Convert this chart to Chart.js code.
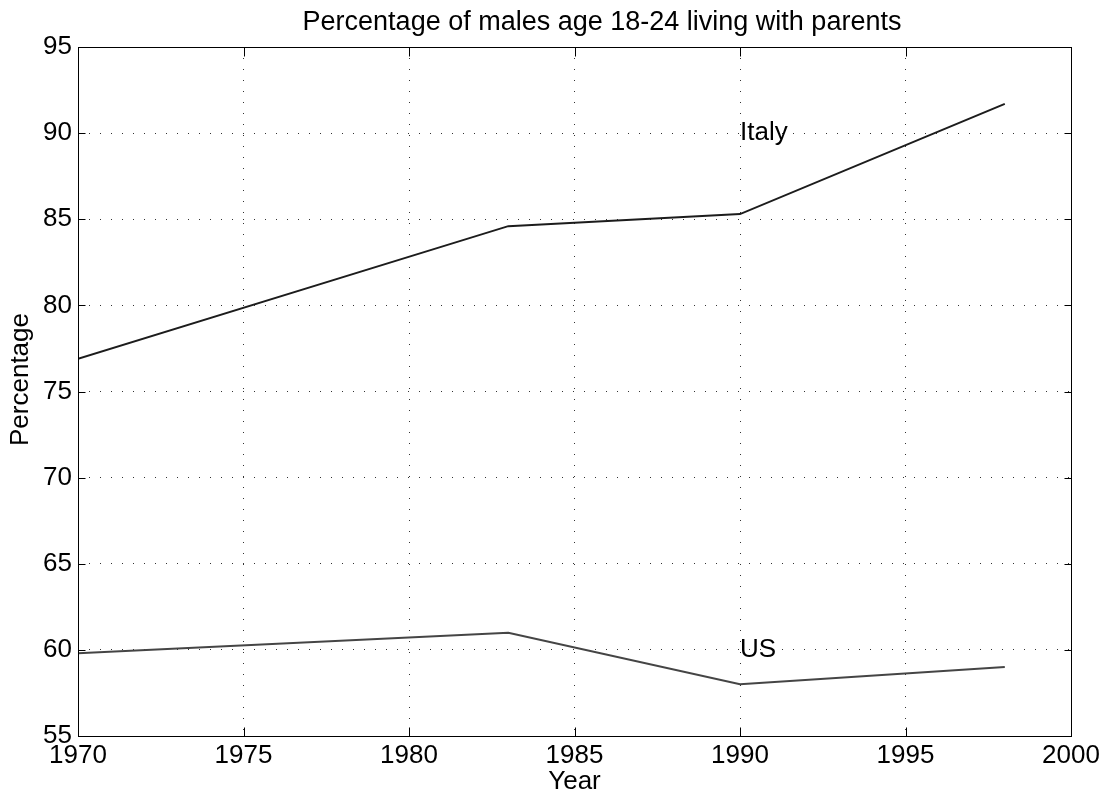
<!DOCTYPE html>
<html>
<head>
    <title>Percentage of males age 18-24 living with parents</title>
    <script src="https://cdnjs.cloudflare.com/ajax/libs/Chart.js/4.4.1/chart.umd.min.js"></script>
    <style>
        html, body {
            margin: 0;
            padding: 0;
            background: #fff;
        }
        .chart-container {
            width: 1112px;
            height: 795px;
        }
    </style>
</head>
<body>
    <div class="chart-container">
        <canvas id="parentsChart"></canvas>
    </div>

    <script>
        const years = [1970, 1983, 1990, 1998];
        const italy = [76.9, 84.6, 85.3, 91.7];
        const us = [59.8, 61.0, 58.0, 59.0];

        const xTicks = [1970, 1975, 1980, 1985, 1990, 1995, 2000];
        const yTicks = [55, 60, 65, 70, 75, 80, 85, 90, 95];

        const chartTitle = 'Percentage of males age 18-24 living with parents';
        const yTitle = 'Percentage';

        // text labels placed in data coordinates
        const seriesLabels = [
            { text: 'Italy', x: 1990, y: 90 },
            { text: 'US', x: 1990, y: 60 }
        ];

        const FONT = '"Liberation Sans", Arial, Helvetica, sans-serif';

        // box around the axes, inward ticks on all four sides, titles, series labels
        const frameAndLabels = {
            id: 'frameAndLabels',
            afterDatasetsDraw(chart) {
                const { ctx, chartArea: a, scales: { x, y } } = chart;
                ctx.save();
                ctx.strokeStyle = '#000';
                ctx.lineWidth = 1;
                const l = Math.round(a.left) + 0.5, r = Math.round(a.right) + 0.5;
                const t = Math.round(a.top) + 0.5, b = Math.round(a.bottom) + 0.5;
                ctx.strokeRect(l, t, r - l, b - t);
                ctx.beginPath();
                x.ticks.forEach(tk => {
                    const px = Math.round(x.getPixelForValue(tk.value)) + 0.5;
                    ctx.moveTo(px, b); ctx.lineTo(px, b - 9);
                    ctx.moveTo(px, t); ctx.lineTo(px, t + 9);
                });
                y.ticks.forEach(tk => {
                    const py = Math.round(y.getPixelForValue(tk.value)) + 0.5;
                    ctx.moveTo(l, py); ctx.lineTo(l + 7, py);
                    ctx.moveTo(r, py); ctx.lineTo(r - 7, py);
                });
                ctx.stroke();

                ctx.fillStyle = '#000';
                ctx.font = '26px ' + FONT;
                ctx.textAlign = 'left';
                ctx.textBaseline = 'middle';
                seriesLabels.forEach(lb => {
                    ctx.fillText(lb.text, x.getPixelForValue(lb.x), y.getPixelForValue(lb.y));
                });

                // chart title
                ctx.font = '27px ' + FONT;
                ctx.textAlign = 'center';
                ctx.textBaseline = 'alphabetic';
                ctx.fillText(chartTitle, 602, 30);

                // y axis title, a little above the axis middle
                ctx.font = '26px ' + FONT;
                ctx.textBaseline = 'middle';
                ctx.translate(21, (a.top + a.bottom) / 2 - 12);
                ctx.rotate(-Math.PI / 2);
                ctx.fillText(yTitle, 0, 0);
                ctx.restore();
            }
        };

        const ctx = document.getElementById('parentsChart').getContext('2d');

        new Chart(ctx, {
            type: 'line',
            data: {
                datasets: [{
                    label: 'Italy',
                    data: years.map((yr, i) => ({ x: yr, y: italy[i] })),
                    borderColor: '#1c1c1c',
                    borderWidth: 2,
                    pointRadius: 0,
                    tension: 0
                }, {
                    label: 'US',
                    data: years.map((yr, i) => ({ x: yr, y: us[i] })),
                    borderColor: '#454545',
                    borderWidth: 2,
                    pointRadius: 0,
                    tension: 0
                }]
            },
            options: {
                responsive: true,
                maintainAspectRatio: false,
                animation: false,
                layout: {
                    padding: { left: 0, right: 41, top: 47, bottom: 0 }
                },
                plugins: {
                    legend: { display: false },
                    tooltip: { enabled: false },
                    title: { display: false }
                },
                scales: {
                    x: {
                        type: 'linear',
                        min: 1970,
                        max: 2000,
                        afterBuildTicks: scale => {
                            scale.ticks = xTicks.map(v => ({ value: v }));
                        },
                        afterFit: scale => { scale.height = 59; },
                        ticks: {
                            color: '#000',
                            font: { family: FONT, size: 26 },
                            padding: 4,
                            maxRotation: 0,
                            autoSkip: false,
                            callback: v => String(v)
                        },
                        grid: {
                            color: '#333',
                            lineWidth: 1,
                            drawTicks: false
                        },
                        border: { display: false, dash: [1, 10] },
                        title: {
                            display: true,
                            text: 'Year',
                            color: '#000',
                            font: { family: FONT, size: 26, lineHeight: 1 },
                            padding: { top: 1, bottom: 0 }
                        }
                    },
                    y: {
                        min: 55,
                        max: 95,
                        afterBuildTicks: scale => {
                            scale.ticks = yTicks.map(v => ({ value: v }));
                        },
                        afterFit: scale => { scale.width = 78; },
                        ticks: {
                            color: '#000',
                            font: { family: FONT, size: 26 },
                            padding: 6,
                            autoSkip: false,
                            callback: v => String(v)
                        },
                        grid: {
                            color: '#333',
                            lineWidth: 1,
                            drawTicks: false
                        },
                        border: { display: false, dash: [1, 10] }
                    }
                }
            },
            plugins: [frameAndLabels]
        });
    </script>
</body>
</html>
